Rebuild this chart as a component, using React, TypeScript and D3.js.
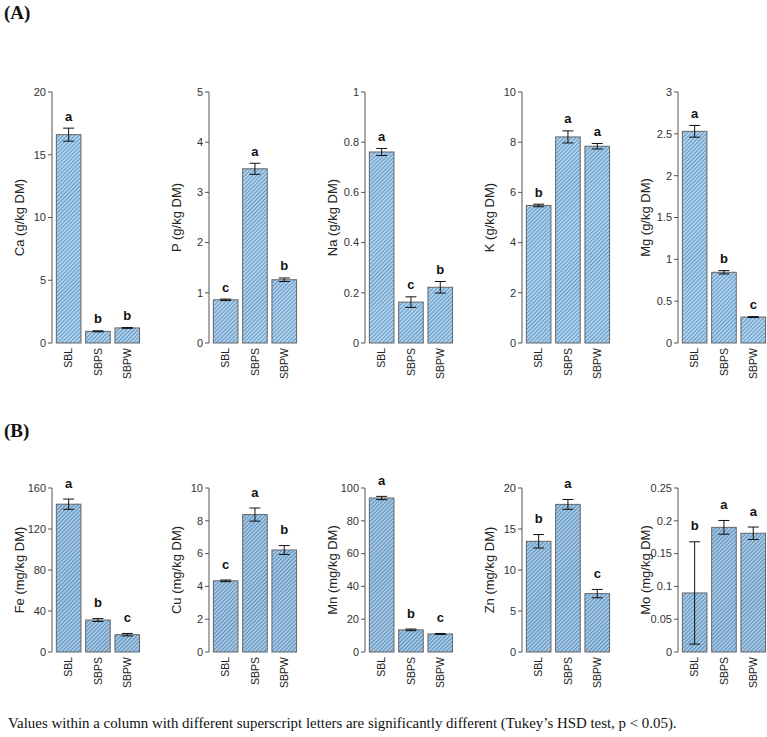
import React from "react";
import * as d3 from "d3";

const categories = ["SBL", "SBPS", "SBPW"];

// Panel A (g/kg DM)
const caValues = [16.6, 0.93, 1.2];
const caErrors = [0.52, 0.04, 0.03];
const caLetters = ["a", "b", "b"];
const caTicks = [0, 5, 10, 15, 20];

const pValues = [0.86, 3.47, 1.26];
const pErrors = [0.015, 0.11, 0.035];
const pLetters = ["c", "a", "b"];
const pTicks = [0, 1, 2, 3, 4, 5];

const naValues = [0.761, 0.163, 0.222];
const naErrors = [0.014, 0.021, 0.023];
const naLetters = ["a", "c", "b"];
const naTicks = [0, 0.2, 0.4, 0.6, 0.8, 1];

const kValues = [5.48, 8.21, 7.84];
const kErrors = [0.05, 0.24, 0.11];
const kLetters = ["b", "a", "a"];
const kTicks = [0, 2, 4, 6, 8, 10];

const mgValues = [2.53, 0.845, 0.31];
const mgErrors = [0.07, 0.02, 0.005];
const mgLetters = ["a", "b", "c"];
const mgTicks = [0, 0.5, 1, 1.5, 2, 2.5, 3];

// Panel B (mg/kg DM)
const feValues = [144.2, 31.2, 16.9];
const feErrors = [5.0, 1.4, 1.2];
const feLetters = ["a", "b", "c"];
const feTicks = [0, 40, 80, 120, 160];

const cuValues = [4.34, 8.38, 6.22];
const cuErrors = [0.05, 0.4, 0.27];
const cuLetters = ["c", "a", "b"];
const cuTicks = [0, 2, 4, 6, 8, 10];

const mnValues = [93.9, 13.5, 11.0];
const mnErrors = [1.0, 0.5, 0.3];
const mnLetters = ["a", "b", "c"];
const mnTicks = [0, 20, 40, 60, 80, 100];

const znValues = [13.5, 18.0, 7.12];
const znErrors = [0.82, 0.6, 0.51];
const znLetters = ["b", "a", "c"];
const znTicks = [0, 5, 10, 15, 20];

const moValues = [0.09, 0.19, 0.181];
const moErrors = [0.078, 0.0105, 0.0095];
const moLetters = ["b", "a", "a"];
const moTicks = [0, 0.05, 0.1, 0.15, 0.2, 0.25];

const panelA = [
  { label: "Ca (g/kg DM)", values: caValues, errors: caErrors, letters: caLetters, ticks: caTicks },
  { label: "P (g/kg DM)", values: pValues, errors: pErrors, letters: pLetters, ticks: pTicks },
  { label: "Na (g/kg DM)", values: naValues, errors: naErrors, letters: naLetters, ticks: naTicks },
  { label: "K (g/kg DM)", values: kValues, errors: kErrors, letters: kLetters, ticks: kTicks },
  { label: "Mg (g/kg DM)", values: mgValues, errors: mgErrors, letters: mgLetters, ticks: mgTicks },
];
const panelB = [
  { label: "Fe (mg/kg DM)", values: feValues, errors: feErrors, letters: feLetters, ticks: feTicks },
  { label: "Cu (mg/kg DM)", values: cuValues, errors: cuErrors, letters: cuLetters, ticks: cuTicks },
  { label: "Mn (mg/kg DM)", values: mnValues, errors: mnErrors, letters: mnLetters, ticks: mnTicks },
  { label: "Zn (mg/kg DM)", values: znValues, errors: znErrors, letters: znLetters, ticks: znTicks },
  { label: "Mo (mg/kg DM)", values: moValues, errors: moErrors, letters: moLetters, ticks: moTicks },
];

const caption =
  "Values within a column with different superscript letters are significantly different (Tukey\u2019s HSD test, p < 0.05).";

const axisXs = [52, 209, 365, 522, 678];
const SANS = "'Liberation Sans', Arial, Helvetica, sans-serif";
const SERIF = "'Liberation Serif', 'Times New Roman', serif";
const AXIS_COLOR = "#555";

type El = { label: string; values: number[]; errors: number[]; letters: string[]; ticks: number[] };

function Chart({ el, axisX, top, bottom, letterGap, patternId }: { el: El; axisX: number; top: number; bottom: number; letterGap: number; patternId: string }) {
  const maxTick = el.ticks[el.ticks.length - 1];
  const y = d3.scaleLinear().domain([0, maxTick]).range([bottom, top]);
  const x = d3
    .scaleBand<string>()
    .domain(categories)
    .range([axisX + 2, axisX + 2 + 29.3 * 3])
    .paddingInner(0.16)
    .paddingOuter(0.08);
  const bw = x.bandwidth();
  const cap = 5.5;
  return (
    <g>
      <line x1={axisX} x2={axisX} y1={y(0)} y2={y(maxTick)} stroke={AXIS_COLOR} strokeWidth={1} />
      {el.ticks.map((t) => (
        <g key={t}>
          <line x1={axisX - 4} x2={axisX} y1={y(t)} y2={y(t)} stroke={AXIS_COLOR} strokeWidth={1} />
          <text x={axisX - 6} y={y(t)} dy="0.35em" textAnchor="end" fontFamily={SANS} fontSize={11} fill="#333">
            {String(t)}
          </text>
        </g>
      ))}
      <text
        transform={`translate(${axisX - 33},${(y(0) + y(maxTick)) / 2}) rotate(-90)`}
        textAnchor="middle"
        dy="0.35em"
        fontFamily={SANS}
        fontSize={13}
        fill="#222"
      >
        {el.label}
      </text>
      {categories.map((c, i) => {
        const x0 = x(c)!;
        const cx = x0 + bw / 2;
        const v = el.values[i];
        const e = el.errors[i];
        return (
          <g key={c}>
            <rect x={x0} y={y(v)} width={bw} height={y(0) - y(v)} fill={`url(#${patternId})`} stroke="#666" strokeWidth={1} />
            <line x1={cx} x2={cx} y1={y(v + e)} y2={y(v - e)} stroke="#111" strokeWidth={1} />
            <line x1={cx - cap} x2={cx + cap} y1={y(v + e)} y2={y(v + e)} stroke="#111" strokeWidth={1} />
            <line x1={cx - cap} x2={cx + cap} y1={y(v - e)} y2={y(v - e)} stroke="#111" strokeWidth={1} />
            <text x={cx} y={y(v + e) - letterGap} textAnchor="middle" fontFamily={SANS} fontWeight="bold" fontSize={13} fill="#111">
              {el.letters[i]}
            </text>
            <text
              transform={`translate(${cx},${bottom + 5}) rotate(-90)`}
              textAnchor="end"
              dy="0.35em"
              fontFamily={SANS}
              fontSize={10.5}
              fill="#222"
            >
              {c}
            </text>
          </g>
        );
      })}
    </g>
  );
}

export default function App() {
  return (
    <svg width={767} height={737} style={{ position: "absolute", left: 0, top: 0, background: "#fff" }}>
      <defs>
        <pattern id="hatchA" patternUnits="userSpaceOnUse" width={2.8} height={2.8} patternTransform="rotate(45)">
          <rect width={2.8} height={2.8} fill="#acd3f0" />
          <line x1={0.5} y1={0} x2={0.5} y2={2.8} stroke="#5580aa" strokeWidth={0.75} />
        </pattern>
        <pattern id="hatchB" patternUnits="userSpaceOnUse" width={2.8} height={2.8} patternTransform="rotate(45)">
          <rect width={2.8} height={2.8} fill="#a3cbe9" />
          <line x1={0.5} y1={0} x2={0.5} y2={2.8} stroke="#4f769e" strokeWidth={0.75} />
        </pattern>
      </defs>
      <text x={4} y={19} fontFamily={SERIF} fontWeight="bold" fontSize={19} fill="#111">
        (A)
      </text>
      <text x={4} y={437} fontFamily={SERIF} fontWeight="bold" fontSize={19} fill="#111">
        (B)
      </text>
      {panelA.map((el, i) => (
        <Chart key={el.label} el={el} axisX={axisXs[i]} top={92} bottom={343} letterGap={7.5} patternId="hatchA" />
      ))}
      {panelB.map((el, i) => (
        <Chart key={el.label} el={el} axisX={axisXs[i]} top={488} bottom={652} letterGap={11.5} patternId="hatchB" />
      ))}
      <text x={8} y={728} fontFamily={SERIF} fontSize={14.9} fill="#111">
        {caption}
      </text>
    </svg>
  );
}
